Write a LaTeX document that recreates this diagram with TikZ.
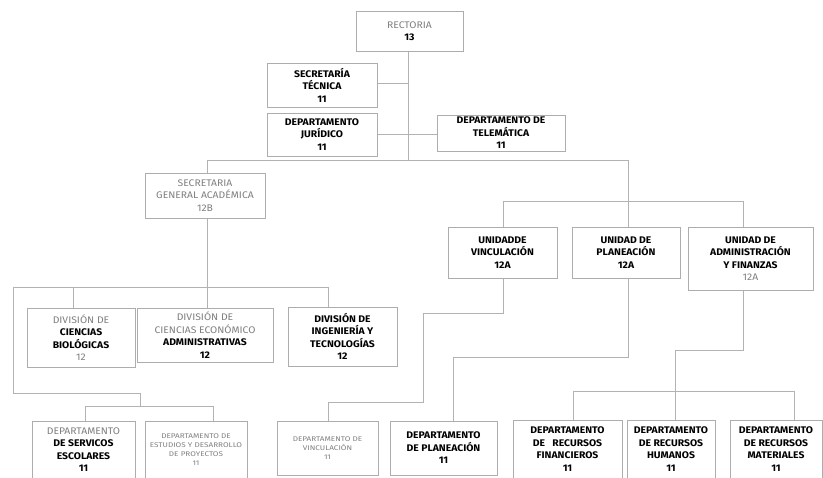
\documentclass[tikz,border=0pt]{standalone}
\usepackage{fontspec}
\newfontfamily\orgfont{Fira Sans}[FakeStretch=1.08]
\newfontfamily\orgsmall{Fira Sans}[FakeStretch=1.2]
\usetikzlibrary{shadows}
\definecolor{lin}{gray}{0.7}
\definecolor{brd}{gray}{0.68}
\definecolor{gtx}{gray}{0.5}
\newcommand\gt[1]{{\mdseries\color{gtx}#1}}
\newcommand\obox[7][]{\node[box,#1,minimum width={(#5-#3)*1pt},minimum height={(#6-#4)*1pt}] (#2) at ({(#3+#5)/2},{(#4+#6)/2}) {#7};}
\begin{document}
\begin{tikzpicture}[x=1pt,y=-1pt,
  box/.style={draw=brd, line width=0.7pt, fill=white, inner sep=0pt, align=center,
    font=\orgfont\bfseries\fontsize{9.6}{12.5}\selectfont, text=black,
    drop shadow={shadow xshift=1.3pt, shadow yshift=-1.3pt, fill=black!22, opacity=1}},
  small/.style={font=\orgsmall\mdseries\fontsize{6.8}{9}\selectfont, text=gtx},
  conn/.style={draw=lin, line width=0.7pt}]
\fill[white] (0,0) rectangle (823,478);
\useasboundingbox (0,0) rectangle (823,478);

% connectors
\coordinate (t1) at (408,160);
\coordinate (t2) at (207,160);
\coordinate (t3) at (628,160);
\coordinate (u0) at (628,201);
\coordinate (d0) at (207,287);
\draw[conn] (408,51) -- (t1);
\draw[conn] (377,83) -- (408,83);
\draw[conn] (377,134) -- (437,134);
\draw[conn] (t2) -- (t3);
\draw[conn] (t2) -- (207,173);
\draw[conn] (t3) -- (u0);
\draw[conn] (503,201) -- (743,201);
\draw[conn] (503,201) -- (503,227);
\draw[conn] (u0) -- (628,227);
\draw[conn] (743,201) -- (743,227);
\draw[conn] (207,218) -- (d0);
\draw[conn] (13,287) -- (328,287);
\draw[conn] (73,287) -- (73,308);
\draw[conn] (d0) -- (207,308);
\draw[conn] (328,287) -- (328,307);
\draw[conn] (13,287) -- (13,393) -- (140,393) -- (140,406);
\draw[conn] (85,406) -- (213,406);
\draw[conn] (85,406) -- (85,421);
\draw[conn] (213,406) -- (213,421);
\draw[conn] (503,278) -- (503,313) -- (423,313) -- (423,402) -- (328,402) -- (328,421);
\draw[conn] (628,278) -- (628,357) -- (453,357) -- (453,421);
\draw[conn] (743,290) -- (743,350) -- (675,350) -- (675,391);
\draw[conn] (573,391) -- (794,391);
\draw[conn] (573,391) -- (573,420);
\draw[conn] (675,391) -- (675,420);
\draw[conn] (794,391) -- (794,420);

% top level
\obox{rect}{356}{11}{463}{51}{\gt{RECTORIA}\\13}
\obox{sectec}{267}{63}{377}{107}{SECRETARÍA\\TÉCNICA\\11}
\obox{jur}{267}{113}{377}{156}{DEPARTAMENTO\\JURÍDICO\\11}
\obox{tel}{437}{115}{565}{151}{DEPARTAMENTO DE\\TELEMÁTICA\\11}

% second level
\obox{secgen}{145}{173}{265}{218}{\gt{SECRETARIA}\\\gt{GENERAL ACADÉMICA}\\\gt{12B}}
\obox{uvin}{448}{227}{557}{278}{UNIDADDE\\VINCULACIÓN\\12A}
\obox{upla}{572}{227}{680}{278}{UNIDAD DE\\PLANEACIÓN\\12A}
\obox{uadm}{688}{227}{813}{290}{UNIDAD DE\\ADMINISTRACIÓN\\Y FINANZAS\\\gt{12A}}

% divisions
\obox{bio}{27}{308}{135}{367}{\gt{DIVISIÓN DE}\\CIENCIAS\\BIOLÓGICAS\\\gt{12}}
\obox{eco}{137}{308}{273}{362}{\gt{DIVISIÓN DE}\\\gt{CIENCIAS ECONÓMICO}\\ADMINISTRATIVAS\\12}
\obox{ing}{288}{307}{397}{366}{DIVISIÓN DE\\INGENIERÍA Y\\TECNOLOGÍAS\\12}

% departments
\obox{ser}{32}{421}{135}{478}{\gt{DEPARTAMENTO}\\DE SERVICOS\\ESCOLARES\\11}
\obox[small]{est}{145}{421}{247}{478}{DEPARTAMENTO DE\\ESTUDIOS Y DESARROLLO\\DE PROYECTOS\\11}
\obox[small]{dvin}{277}{421}{378}{475}{DEPARTAMENTO DE\\VINCULACIÓN\\11}
\obox{dpla}{390}{421}{497}{475}{DEPARTAMENTO\\DE PLANEACIÓN\\11}
\obox{fin}{513}{420}{622}{478}{DEPARTAMENTO\\DE\ \ \ RECURSOS\\FINANCIEROS\\11}
\obox{hum}{627}{420}{715}{478}{DEPARTAMENTO\\DE RECURSOS\\HUMANOS\\11}
\obox{mat}{730}{420}{822}{478}{DEPARTAMENTO\\DE RECURSOS\\MATERIALES\\11}
\end{tikzpicture}
\end{document}
